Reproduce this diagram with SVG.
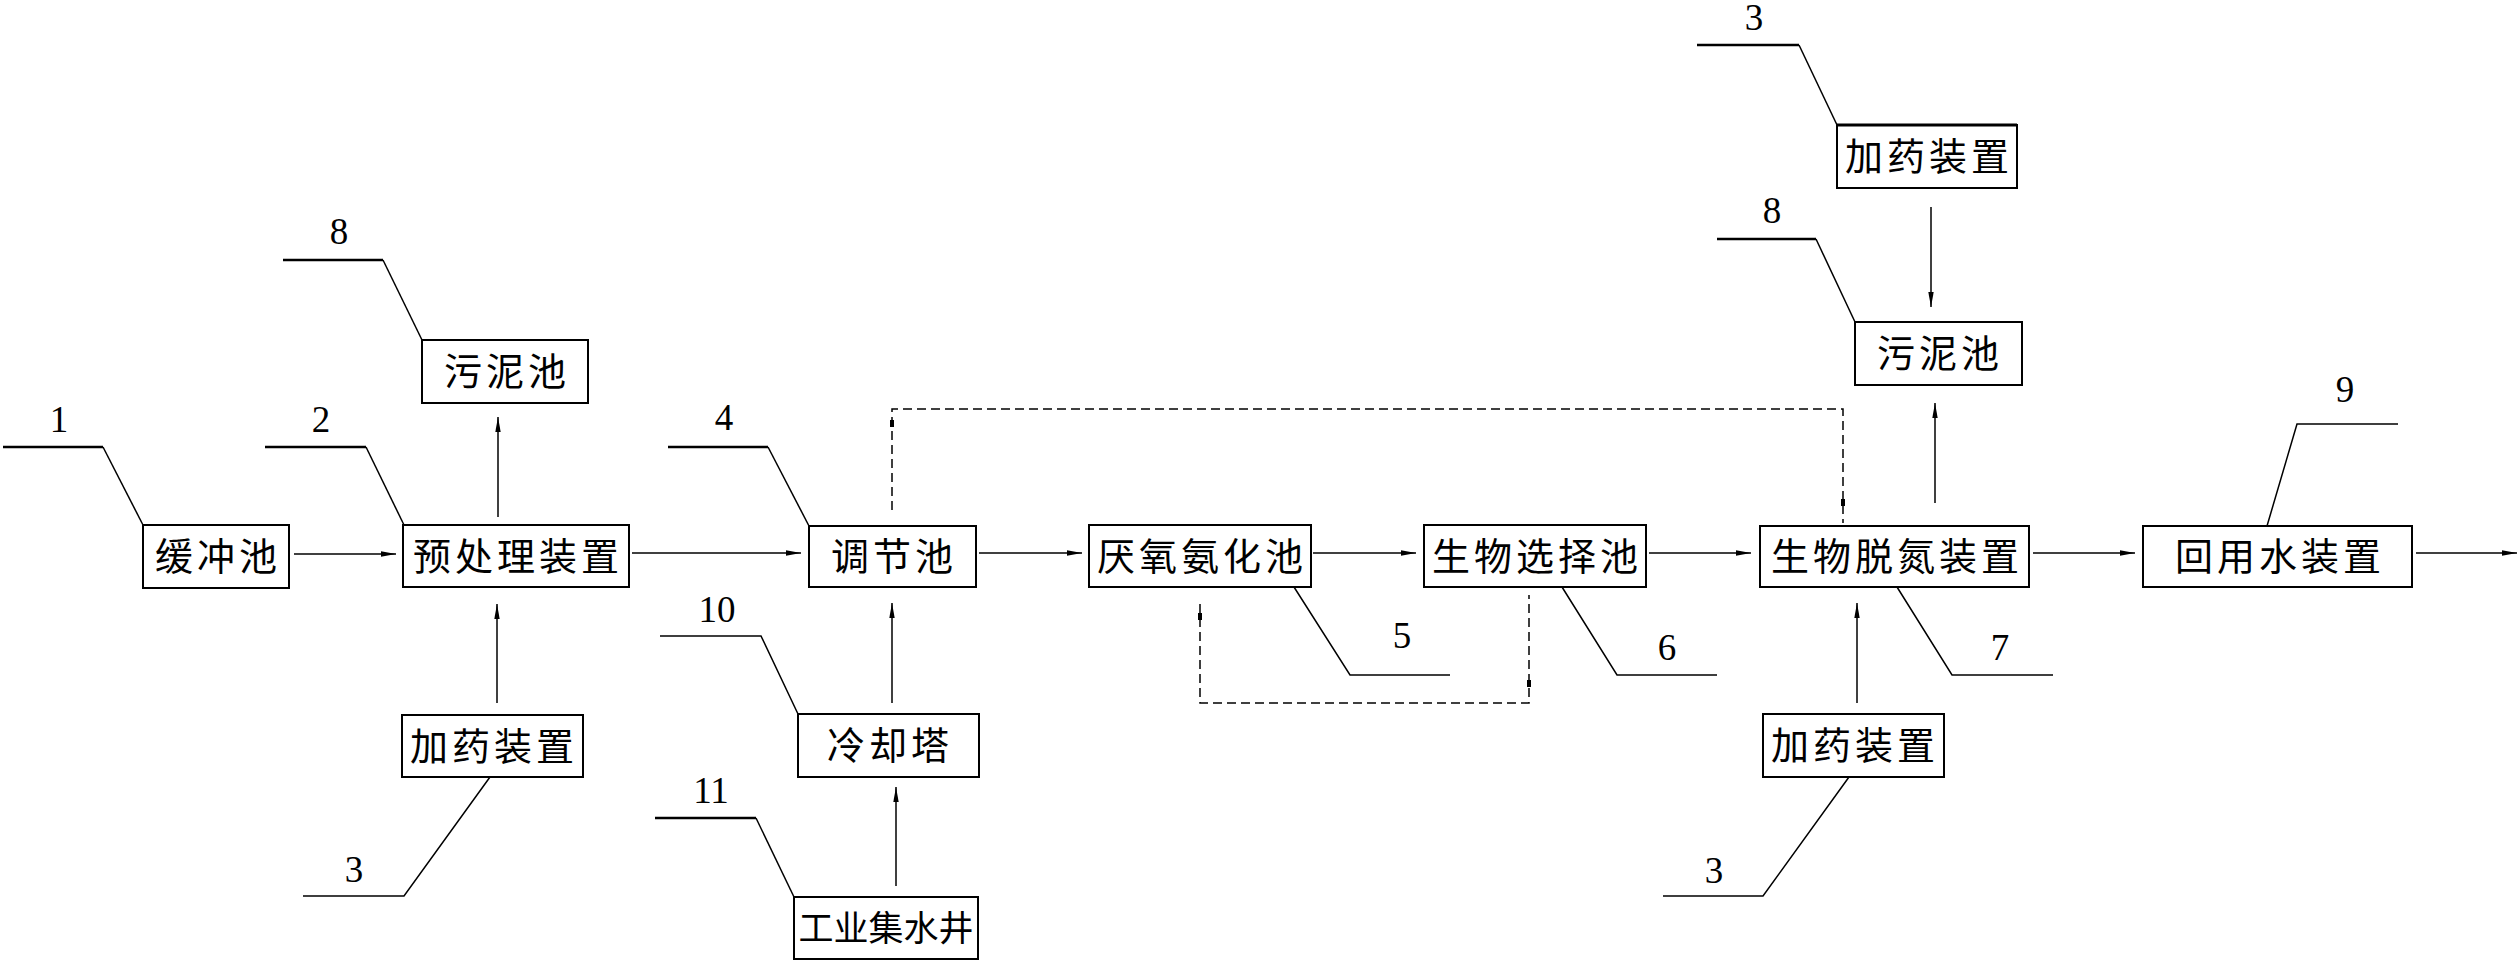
<svg xmlns="http://www.w3.org/2000/svg" width="2520" height="968" viewBox="0 0 2520 968">
<style>
.bg{fill:#fff}
.box{fill:none;stroke:#000;stroke-width:2}
.t{font-family:"Noto Sans CJK SC","Noto Sans CJK JP",sans-serif;font-size:38px;letter-spacing:4px;text-anchor:middle;fill:#000}
.tn{font-size:35px;letter-spacing:0px}
.n{font-family:"Liberation Serif",serif;font-size:37px;text-anchor:middle;fill:#000}
.lead{fill:none;stroke:#000;stroke-width:1.5}
.thick{stroke-width:2.6}
.conn{fill:none;stroke:#000;stroke-width:1.5}
.dash{fill:none;stroke:#000;stroke-width:1.5;stroke-dasharray:9 5}
</style>
<defs>
<marker id="ah" markerUnits="userSpaceOnUse" markerWidth="16" markerHeight="8" refX="15" refY="4" orient="auto">
<path d="M0,1.3 L15,4 L0,6.7 z" fill="#000"/>
</marker>
</defs>
<rect class="bg" x="0" y="0" width="2520" height="968"/>

<g id="n1"><rect class="box" x="143" y="525" width="146" height="63"/><text class="t" x="218" y="570">缓冲池</text></g>
<g id="n2"><rect class="box" x="403" y="525" width="226" height="62"/><text class="t" x="518" y="570">预处理装置</text></g>
<g id="n8a"><rect class="box" x="422" y="340" width="166" height="63"/><text class="t" x="507" y="385">污泥池</text></g>
<g id="n3a"><rect class="box" x="402" y="715" width="181" height="62"/><text class="t" x="494" y="760">加药装置</text></g>
<g id="n4"><rect class="box" x="809" y="526" width="167" height="61"/><text class="t" x="894" y="570">调节池</text></g>
<g id="n10"><rect class="box" x="798" y="714" width="181" height="63"/><text class="t" x="890" y="759">冷却塔</text></g>
<g id="n11"><rect class="box" x="794" y="897" width="184" height="62"/><text class="t tn" x="886" y="941">工业集水井</text></g>
<g id="n5"><rect class="box" x="1089" y="525" width="222" height="62"/><text class="t" x="1202" y="570">厌氧氨化池</text></g>
<g id="n6"><rect class="box" x="1424" y="525" width="222" height="62"/><text class="t" x="1537" y="570">生物选择池</text></g>
<g id="n7"><rect class="box" x="1760" y="526" width="269" height="61"/><text class="t" x="1897" y="570">生物脱氮装置</text></g>
<g id="n8b"><rect class="box" x="1855" y="322" width="167" height="63"/><text class="t" x="1940" y="367">污泥池</text></g>
<g id="n3b"><rect class="box" x="1837" y="125" width="180" height="63"/><line x1="1837" y1="125" x2="2017" y2="125" stroke="#000" stroke-width="3"/><text class="t" x="1929" y="170">加药装置</text></g>
<g id="n3c"><rect class="box" x="1763" y="714" width="181" height="63"/><text class="t" x="1855" y="759">加药装置</text></g>
<g id="n9"><rect class="box" x="2143" y="526" width="269" height="61"/><text class="t" x="2280" y="570">回用水装置</text></g>

<g id="labels">
<text class="n" x="59" y="432">1</text>
<polyline class="lead" points="103,447 143,525"/><line class="lead thick" x1="3" y1="447" x2="103" y2="447"/>
<text class="n" x="321" y="432">2</text>
<polyline class="lead" points="366,447 404,525"/><line class="lead thick" x1="265" y1="447" x2="366" y2="447"/>
<text class="n" x="339" y="244">8</text>
<polyline class="lead" points="383,260 422,340"/><line class="lead thick" x1="283" y1="260" x2="383" y2="260"/>
<text class="n" x="724" y="430">4</text>
<polyline class="lead" points="768,447 809,526"/><line class="lead thick" x1="668" y1="447" x2="768" y2="447"/>
<text class="n" x="717" y="622">10</text>
<polyline class="lead" points="660,636 761,636 798,714"/>
<text class="n" x="711" y="803">11</text>
<polyline class="lead" points="756,818 794,897"/><line class="lead thick" x1="655" y1="818" x2="756" y2="818"/>
<text class="n" x="354" y="882">3</text>
<polyline class="lead" points="490,777 404,896 303,896"/>
<text class="n" x="1402" y="648">5</text>
<polyline class="lead" points="1294,587 1350,675 1450,675"/>
<text class="n" x="1667" y="660">6</text>
<polyline class="lead" points="1562,587 1617,675 1717,675"/>
<text class="n" x="2000" y="660">7</text>
<polyline class="lead" points="1897,587 1952,675 2053,675"/>
<text class="n" x="2345" y="402">9</text>
<polyline class="lead" points="2267,526 2297,424 2398,424"/>
<text class="n" x="1754" y="30">3</text>
<polyline class="lead" points="1799,45 1837,125"/><line class="lead thick" x1="1697" y1="45" x2="1799" y2="45"/>
<text class="n" x="1772" y="223">8</text>
<polyline class="lead" points="1816,239 1855,322"/><line class="lead thick" x1="1717" y1="239" x2="1816" y2="239"/>
<text class="n" x="1714" y="883">3</text>
<polyline class="lead" points="1849,777 1763,896 1663,896"/>
</g>

<g id="connectors">
<line class="conn" x1="294" y1="554" x2="396" y2="554" marker-end="url(#ah)"/>
<line class="conn" x1="632" y1="553" x2="801" y2="553" marker-end="url(#ah)"/>
<line class="conn" x1="979" y1="553" x2="1082" y2="553" marker-end="url(#ah)"/>
<line class="conn" x1="1313" y1="553" x2="1416" y2="553" marker-end="url(#ah)"/>
<line class="conn" x1="1649" y1="553" x2="1751" y2="553" marker-end="url(#ah)"/>
<line class="conn" x1="2033" y1="553" x2="2135" y2="553" marker-end="url(#ah)"/>
<line class="conn" x1="2416" y1="553" x2="2517" y2="553" marker-end="url(#ah)"/>
<line class="conn" x1="498" y1="517" x2="498" y2="417" marker-end="url(#ah)"/>
<line class="conn" x1="497" y1="703" x2="497" y2="604" marker-end="url(#ah)"/>
<line class="conn" x1="892" y1="703" x2="892" y2="603" marker-end="url(#ah)"/>
<line class="conn" x1="896" y1="886" x2="896" y2="787" marker-end="url(#ah)"/>
<line class="conn" x1="1857" y1="703" x2="1857" y2="603" marker-end="url(#ah)"/>
<line class="conn" x1="1935" y1="503" x2="1935" y2="403" marker-end="url(#ah)"/>
<line class="conn" x1="1931" y1="207" x2="1931" y2="307" marker-end="url(#ah)"/>
<polyline class="dash" points="892,510 892,409 1843,409 1843,523"/>
<rect x="890" y="420" width="4" height="7" fill="#000"/>
<rect x="1841" y="499" width="4" height="7" fill="#000"/>
<polyline class="dash" points="1200,604 1200,703 1529,703 1529,595"/>
<rect x="1198" y="613" width="4" height="7" fill="#000"/>
<rect x="1527" y="680" width="4" height="7" fill="#000"/>
</g>
</svg>
